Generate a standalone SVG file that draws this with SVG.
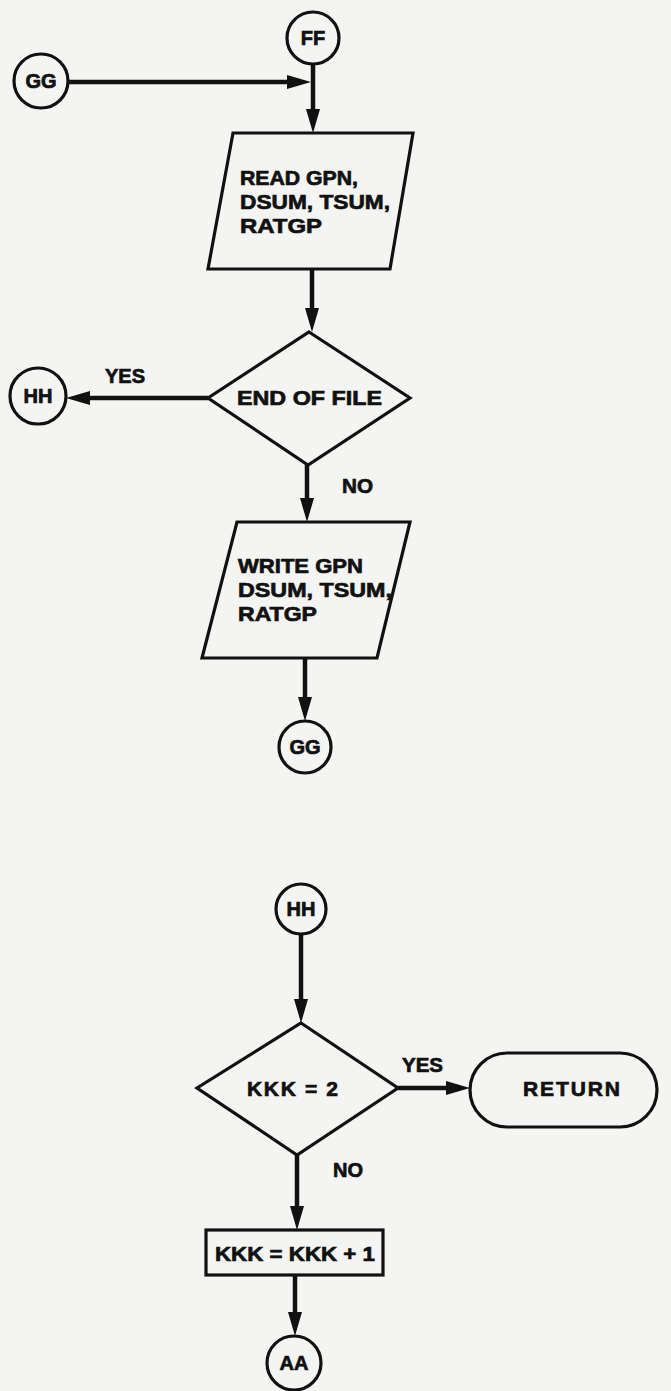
<svg xmlns="http://www.w3.org/2000/svg" width="671" height="1391" viewBox="0 0 671 1391">
<style>
.shape{fill:none;stroke:#111;stroke-width:3.2;stroke-linejoin:miter}
.conn{fill:none;stroke:#111;stroke-width:4.5}
text{font-family:"Liberation Sans",Arial,Helvetica,sans-serif;font-weight:bold;fill:#111;stroke:#111;stroke-width:0.7}
.t{font-size:21px}
.c{font-size:20px;text-anchor:middle}
</style>
<defs>
<marker id="ah" markerUnits="userSpaceOnUse" markerWidth="24" markerHeight="14" refX="13" refY="7" orient="auto">
<path d="M0,0 L24,7 L0,14 z" fill="#111"/>
</marker>
</defs>
<rect x="0" y="0" width="671" height="1391" fill="#f4f4f2"/>
<g id="connectors">
<line class="conn" x1="68" y1="82" x2="300" y2="82" marker-end="url(#ah)"/>
<line class="conn" x1="313" y1="64" x2="313" y2="122" marker-end="url(#ah)"/>
<line class="conn" x1="312" y1="269" x2="312" y2="321" marker-end="url(#ah)"/>
<line class="conn" x1="208" y1="398" x2="77" y2="398" marker-end="url(#ah)"/>
<line class="conn" x1="307" y1="465" x2="307" y2="511" marker-end="url(#ah)"/>
<line class="conn" x1="305" y1="658" x2="305" y2="710" marker-end="url(#ah)"/>
<line class="conn" x1="301" y1="934" x2="301" y2="1012" marker-end="url(#ah)"/>
<line class="conn" x1="398" y1="1088" x2="459" y2="1088" marker-end="url(#ah)"/>
<line class="conn" x1="297" y1="1155" x2="297" y2="1219" marker-end="url(#ah)"/>
<line class="conn" x1="295" y1="1275" x2="295" y2="1325" marker-end="url(#ah)"/>
</g>
<g id="FF_top"><circle class="shape" cx="313" cy="38" r="26"/><text class="c" x="313" y="45">FF</text></g>
<g id="GG_top"><circle class="shape" cx="41" cy="81" r="27"/><text class="c" x="41" y="88">GG</text></g>
<g id="read"><polygon class="shape" points="233,133 413,133 390,269 208,269"/>
<text class="t" x="240" y="185" textLength="118" lengthAdjust="spacingAndGlyphs">READ GPN,</text>
<text class="t" x="240" y="209" textLength="150" lengthAdjust="spacingAndGlyphs">DSUM, TSUM,</text>
<text class="t" x="240" y="233" textLength="82" lengthAdjust="spacingAndGlyphs">RATGP</text></g>
<g id="eof"><polygon class="shape" points="309,332 410,398 308,465 208,398"/>
<text class="t" x="237" y="405" textLength="145" lengthAdjust="spacingAndGlyphs">END OF FILE</text></g>
<g id="HH_top"><circle class="shape" cx="38" cy="396" r="28"/><text class="c" x="38" y="403">HH</text></g>
<g id="lbl_yes1"><text class="t" x="105" y="383" textLength="40" lengthAdjust="spacingAndGlyphs">YES</text></g>
<g id="lbl_no1"><text class="t" x="342" y="493" textLength="31" lengthAdjust="spacingAndGlyphs">NO</text></g>
<g id="write"><polygon class="shape" points="237,522 410,522 377,658 202,658"/>
<text class="t" x="238" y="573" textLength="125" lengthAdjust="spacingAndGlyphs">WRITE GPN</text>
<text class="t" x="238" y="597" textLength="154" lengthAdjust="spacingAndGlyphs">DSUM, TSUM,</text>
<text class="t" x="238" y="621" textLength="79" lengthAdjust="spacingAndGlyphs">RATGP</text></g>
<g id="GG_bottom"><circle class="shape" cx="305" cy="747" r="26"/><text class="c" x="305" y="754">GG</text></g>
<g id="HH_bottom"><circle class="shape" cx="301" cy="909" r="25"/><text class="c" x="301" y="916">HH</text></g>
<g id="kkk2"><polygon class="shape" points="301,1023 398,1088 297,1155 197,1088"/>
<text class="t" x="247" y="1096" textLength="91" lengthAdjust="spacing">KKK = 2</text></g>
<g id="lbl_yes2"><text class="t" x="402" y="1072" textLength="41" lengthAdjust="spacingAndGlyphs">YES</text></g>
<g id="return"><rect class="shape" x="470" y="1053" width="187" height="74" rx="37" ry="37"/>
<text class="t" x="523" y="1096" textLength="97" lengthAdjust="spacing">RETURN</text></g>
<g id="lbl_no2"><text class="t" x="333" y="1177" textLength="30" lengthAdjust="spacingAndGlyphs">NO</text></g>
<g id="incr"><rect class="shape" x="206" y="1230" width="177" height="45"/>
<text class="t" x="215" y="1261" textLength="160" lengthAdjust="spacingAndGlyphs">KKK = KKK + 1</text></g>
<g id="AA"><circle class="shape" cx="294" cy="1363" r="27"/><text class="c" x="294" y="1370">AA</text></g>
</svg>
